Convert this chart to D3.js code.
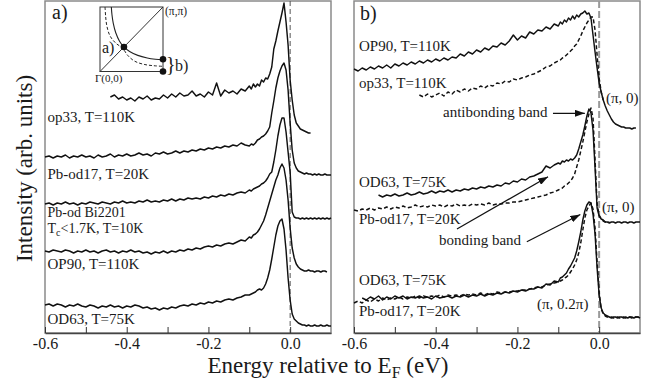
<!DOCTYPE html>
<html><head><meta charset="utf-8">
<script src="https://cdn.jsdelivr.net/npm/d3@7"></script>
<style>
body{margin:0;background:#fff}
svg{display:block}
text{font-family:"Liberation Serif","Times New Roman",serif;fill:#1a1a1a}
</style>
</head><body>
<svg id="c" width="657" height="384"></svg>
<script>
const N = null;
// Energy grid (eV relative to E_F)
const energies = [
-0.60,-0.59,-0.58,-0.57,-0.56,-0.55,-0.54,-0.53,-0.52,-0.51,
-0.50,-0.49,-0.48,-0.47,-0.46,-0.45,-0.44,-0.43,-0.42,-0.41,
-0.40,-0.39,-0.38,-0.37,-0.36,-0.35,-0.34,-0.33,-0.32,-0.31,
-0.30,-0.29,-0.28,-0.27,-0.26,-0.25,-0.24,-0.23,-0.22,-0.21,
-0.20,-0.19,-0.18,-0.17,-0.16,-0.15,-0.14,-0.13,-0.12,-0.11,
-0.10,
-0.095,-0.090,-0.085,-0.080,-0.075,-0.070,-0.065,-0.060,-0.055,-0.050,
-0.045,-0.040,-0.035,-0.030,-0.025,-0.020,-0.015,-0.010,-0.005,0.000,
0.005,0.010,0.015,0.020,0.025,0.030,0.035,0.040,0.045,0.050,
0.055,0.060,0.065,0.070,0.075,0.080,0.085,0.090,0.095,0.100];

// Panel a) spectra (intensity, arb. units, offset stacked)
const aOp33 = [
N,N,N,N,N,N,N,N,N,N,
N,N,N,N,N,N,236,238,234,236,
233,235,232,236,234,237,233,235,234,238,
235,239,236,240,237,238,242,237,239,236,
241,238,250,237,243,240,242,239,244,242,
247,
244,249,246,249,247,253,251,255,254,259,
266,284,292,302,311,320,330,311,288,253,
233,218,210,207,204,203,202,201,200,200,
N,N,N,N,N,N,N,N,N,N];
const aPbOd17 = [
176,177,175,177,176,178,175,177,176,178,
176,177,175,178,176,177,179,176,178,177,
179,177,178,180,178,179,177,180,179,181,
179,180,182,180,182,181,183,182,184,183,
185,184,186,185,187,186,188,187,190,188,
187,
189,188,190,193,194,196,197,199,202,206,
220,232,245,255,262,267,270,263,243,210,
183,170,165,162,161,160,159,160,159,159,
158,159,158,159,158,158,159,158,158,158];
const aPbOdBi2201 = [
129,130,128,130,129,131,129,130,128,130,
129,131,130,129,131,130,129,131,130,132,
130,131,130,132,131,133,131,132,131,133,
132,134,132,134,133,135,134,135,134,136,
135,137,136,138,137,139,138,140,141,140,
143,
142,144,145,146,147,149,150,152,155,159,
161,171,183,197,208,215,215,201,181,161,
121,116,115,115,114,115,114,115,114,115,
114,115,114,115,114,115,114,115,114,115];
const aOP90 = [
82,81,83,82,81,83,82,80,82,81,
83,81,82,80,82,83,81,82,80,82,
81,83,81,82,80,81,79,81,80,82,
80,82,81,83,82,84,83,85,84,86,
87,86,88,87,89,90,89,91,93,92,
96,
95,98,99,101,104,108,112,118,125,132,
139,146,153,158,165,169,165,153,133,105,
85,75,69,66,64,63,62,62,63,62,
62,61,62,62,61,62,62,61,N,N];
const aOD63 = [
28,29,27,29,28,26,28,27,29,27,
26,28,27,25,27,26,28,26,27,25,
27,26,28,27,25,26,24,25,23,25,
24,26,25,27,28,27,29,28,30,29,
31,30,32,31,33,34,33,35,36,38,
38,
39,40,41,43,44,43,45,49,55,63,
74,86,98,107,112,114,104,83,55,33,
19,14,12,10,9,8,8,7,8,7,
7,8,7,7,8,7,7,8,7,7];

// Panel b) spectra
const bOP90 = [
264,262,265,263,266,264,267,265,268,265,
269,267,270,268,271,269,272,270,273,271,
274,272,275,273,276,275,279,277,281,279,
283,281,285,283,287,286,290,288,292,298,
293,297,295,301,299,303,302,306,304,309,
307,
311,309,313,311,315,313,317,314,318,316,
319,320,322,319,320,315,298,281,265,250,
241,233,227,222,218,214,211,209,208,207,
206,206,205,205,205,204,205,205,N,N];
const bOp33 = [
N,N,N,N,N,N,N,N,N,N,
N,N,N,N,N,N,238,236,239,236,
238,240,237,241,239,243,241,244,242,245,
244,247,245,248,247,250,249,252,251,254,
253,255,256,258,259,261,263,266,267,270,
272,
273,275,276,278,280,282,284,287,289,293,
297,302,306,310,313,316,316,303,278,255,
241,233,N,N,N,N,N,N,N,N,
N,N,N,N,N,N,N,N,N,N];
const bOD63 = [
N,N,N,N,N,N,138,136,138,137,
139,137,138,140,138,139,141,139,140,142,
140,142,141,143,141,143,142,144,143,145,
144,146,145,147,146,148,147,150,149,152,
151,154,153,156,157,159,161,167,165,168,
170,
169,172,171,173,172,174,173,175,178,184,
191,198,207,217,224,220,203,165,125,117,
114,113,111,111,110,111,111,110,111,111,
110,111,111,110,111,111,110,111,111,111];
const bPbOd17 = [
123,122,124,123,125,123,125,124,126,124,
126,125,127,125,126,128,126,127,126,128,
127,128,126,128,127,129,127,128,127,129,
128,129,128,130,128,129,129,130,130,131,
131,132,133,134,135,136,137,138,140,141,
143,
144,145,147,148,150,152,155,159,166,173,
182,191,201,211,219,225,215,173,129,118,
114,112,111,111,111,N,N,N,N,N,
N,N,N,N,N,N,N,N,N,N];
const bOD63k = [
N,N,35,33,36,34,37,33,36,34,
37,35,37,34,36,35,37,35,36,34,
37,35,36,37,35,37,36,38,36,38,
37,39,37,39,38,40,39,41,40,42,
41,43,42,44,44,46,45,49,48,52,
51,
55,56,58,60,64,67,71,75,82,91,
101,113,122,128,131,130,119,99,65,38,
25,20,18,17,16,15,16,16,15,16,
16,15,16,15,16,16,15,16,16,15];
const bPbOd17k = [
30,32,30,33,31,34,32,35,33,35,
34,36,34,36,35,37,35,37,36,37,
36,38,36,38,37,38,37,39,38,39,
38,40,38,40,39,41,40,41,41,42,
42,43,43,44,45,46,46,48,49,50,
51,
52,53,55,56,58,61,64,68,73,80,
90,103,115,123,127,130,124,105,71,41,
24,19,17,16,16,16,15,16,16,15,
16,16,15,16,16,15,16,16,16,15];

// Axis ticks
const tickValues = [-0.6,-0.5,-0.4,-0.3,-0.2,-0.1,0.0];
const tickLabels = ["-0.6","","-0.4","","-0.2","","0.0"];

// Inset Brillouin-zone sketch (units of pi)
const fsSolidKx = [0.18,0.19,0.21,0.25,0.31,0.38,0.47,0.60,0.75,0.88,1.00];
const fsSolidKy = [1.00,0.88,0.75,0.60,0.47,0.38,0.31,0.25,0.21,0.19,0.18];
const fsDashKx  = [0.08,0.09,0.11,0.16,0.25,0.36,0.44,0.55,0.70,0.85,1.00];
const fsDashKy  = [1.00,0.85,0.70,0.55,0.44,0.36,0.25,0.16,0.11,0.09,0.08];
const kDotsX = [0.38,1.0,1.0];
const kDotsY = [0.38,0.19,0.0];

// Annotation arrows in panel b (energy, intensity)
const arrowFromE = [-0.113,-0.348,-0.177];
const arrowFromI = [219.7,104,91.3];
const arrowToE   = [-0.035,-0.125,-0.046];
const arrowToI   = [219.7,156.3,118.5];

const svg = d3.select("#c");
const xA = d3.scaleLinear().domain([-0.6,0.1]).range([45,331]);
const xB = d3.scaleLinear().domain([-0.6,0.1]).range([354,640]);
const y  = d3.scaleLinear().domain([0,333]).range([333,0]);

svg.append("defs").append("marker")
  .attr("id","ah").attr("markerUnits","userSpaceOnUse")
  .attr("markerWidth",10).attr("markerHeight",7)
  .attr("refX",10).attr("refY",3.5).attr("orient","auto")
  .append("path").attr("d","M0,0L10,3.5L0,7Z").attr("fill","#111");

function panel(x, dashColor, dashW, dashArr){
  const g = svg.append("g");
  const [x0,x1] = x.range();
  g.append("rect").attr("x",x0).attr("y",1).attr("width",x1-x0).attr("height",332)
    .attr("fill","none").attr("stroke","#8a8a8a").attr("stroke-width",1.5);
  g.append("line").attr("x1",x(0)).attr("x2",x(0)).attr("y1",1).attr("y2",333)
    .attr("stroke",dashColor).attr("stroke-width",dashW).attr("stroke-dasharray",dashArr);
  const ax = d3.axisBottom(x).tickValues(tickValues)
    .tickFormat((d,i)=>tickLabels[i]).tickSizeInner(-6).tickSizeOuter(0).tickPadding(4.5);
  const ag = g.append("g").attr("transform","translate(0,333)").call(ax);
  ag.select(".domain").attr("stroke","#444").attr("stroke-width",1.5);
  ag.selectAll(".tick line").attr("stroke","#333").attr("stroke-width",1);
  ag.selectAll(".tick text").attr("font-size",16)
    .attr("font-family",'"Liberation Serif","Times New Roman",serif').attr("fill","#1a1a1a");
  return g;
}
const gA = panel(xA,"#555",1,"5,3");
const gB = panel(xB,"#9a9a9a",2,"7,3");

function drawCurve(g, x, vals, dashed){
  const line = d3.line().defined(d=>d[1]!=null).x(d=>x(d[0])).y(d=>y(d[1]));
  g.append("path").datum(energies.map((e,i)=>[e,vals[i]]))
    .attr("d",line).attr("fill","none").attr("stroke","#111")
    .attr("stroke-width",1.45).attr("stroke-linejoin","round")
    .attr("stroke-dasharray",dashed?"4,2.5":null);
}
[aOp33,aPbOd17,aPbOdBi2201,aOP90,aOD63].forEach(v=>drawCurve(gA,xA,v,false));
drawCurve(gB,xB,bOP90,false);
drawCurve(gB,xB,bOp33,true);
drawCurve(gB,xB,bOD63,false);
drawCurve(gB,xB,bPbOd17,true);
drawCurve(gB,xB,bOD63k,false);
drawCurve(gB,xB,bPbOd17k,true);

// arrows
arrowFromE.forEach((e,i)=>{
  gB.append("line").attr("x1",xB(e)).attr("y1",y(arrowFromI[i]))
    .attr("x2",xB(arrowToE[i])).attr("y2",y(arrowToI[i]))
    .attr("stroke","#111").attr("stroke-width",1.2).attr("marker-end","url(#ah)");
});

function txt(x,yy,s,size,anchor){
  return svg.append("text").attr("x",x).attr("y",yy).attr("font-size",size)
    .attr("text-anchor",anchor||"start").text(s);
}
// panel a labels
txt(52,19,"a)",20);
txt(47.5,121.5,"op33, T=110K",15);
txt(47.5,178.5,"Pb-od17, T=20K",15);
txt(47.5,216.5,"Pb-od Bi2201",14);
const tc = txt(47.5,232.5,"T",14);
tc.append("tspan").attr("font-size",10).attr("dy",3).text("c");
tc.append("tspan").attr("dy",-3).text("<1.7K, T=10K");
txt(47.5,269,"OP90, T=110K",15);
txt(47.5,324,"OD63, T=75K",15);
// panel b labels
txt(360,20,"b)",20);
txt(359,51,"OP90, T=110K",15);
txt(359,88,"op33, T=110K",15);
txt(443,117,"antibonding band",15);
txt(606,103,"(\u03c0, 0)",15);
txt(359,187,"OD63, T=75K",15);
txt(359,224,"Pb-od17, T=20K",15);
txt(439,244.5,"bonding band",15);
txt(602,211.5,"(\u03c0, 0)",15);
txt(359,285,"OD63, T=75K",15);
txt(359,316,"Pb-od17, T=20K",15);
txt(537,308.5,"(\u03c0, 0.2\u03c0)",15);

// axis titles
const xt = txt(328,373,"Energy relative to E",23,"middle");
xt.append("tspan").attr("font-size",16).attr("dy",5).text("F");
xt.append("tspan").attr("dy",-5).text(" (eV)");
svg.append("text").attr("transform","translate(31.5,168.5) rotate(-90)")
  .attr("text-anchor","middle").attr("font-size",23).text("Intensity (arb. units)");

// inset
const kx = d3.scaleLinear().domain([0,1]).range([100,163]);
const ky = d3.scaleLinear().domain([0,1]).range([71.5,7]);
const gi = svg.append("g");
gi.append("rect").attr("x",kx(0)).attr("y",ky(1)).attr("width",kx(1)-kx(0)).attr("height",ky(0)-ky(1))
  .attr("fill","#fff").attr("stroke","#333").attr("stroke-width",1);
gi.append("line").attr("x1",kx(0)).attr("y1",ky(0)).attr("x2",kx(1)).attr("y2",ky(1))
  .attr("stroke","#333").attr("stroke-width",1);
const kline = d3.line().x(d=>kx(d[0])).y(d=>ky(d[1])).curve(d3.curveCatmullRom);
gi.append("path").attr("d",kline(fsSolidKx.map((v,i)=>[v,fsSolidKy[i]])))
  .attr("fill","none").attr("stroke","#222").attr("stroke-width",1.1);
gi.append("path").attr("d",kline(fsDashKx.map((v,i)=>[v,fsDashKy[i]])))
  .attr("fill","none").attr("stroke","#222").attr("stroke-width",1).attr("stroke-dasharray","3,2");
kDotsX.forEach((v,i)=>gi.append("circle").attr("cx",kx(v)).attr("cy",ky(kDotsY[i])).attr("r",3.3).attr("fill","#111"));
txt(165,15,"(\u03c0,\u03c0)",11.5);
txt(95,82,"\u0393(0,0)",11);
txt(102,53,"a)",16);
txt(166,71,"}",20);
txt(175,70.5,"b)",16);
</script>
</body></html>
